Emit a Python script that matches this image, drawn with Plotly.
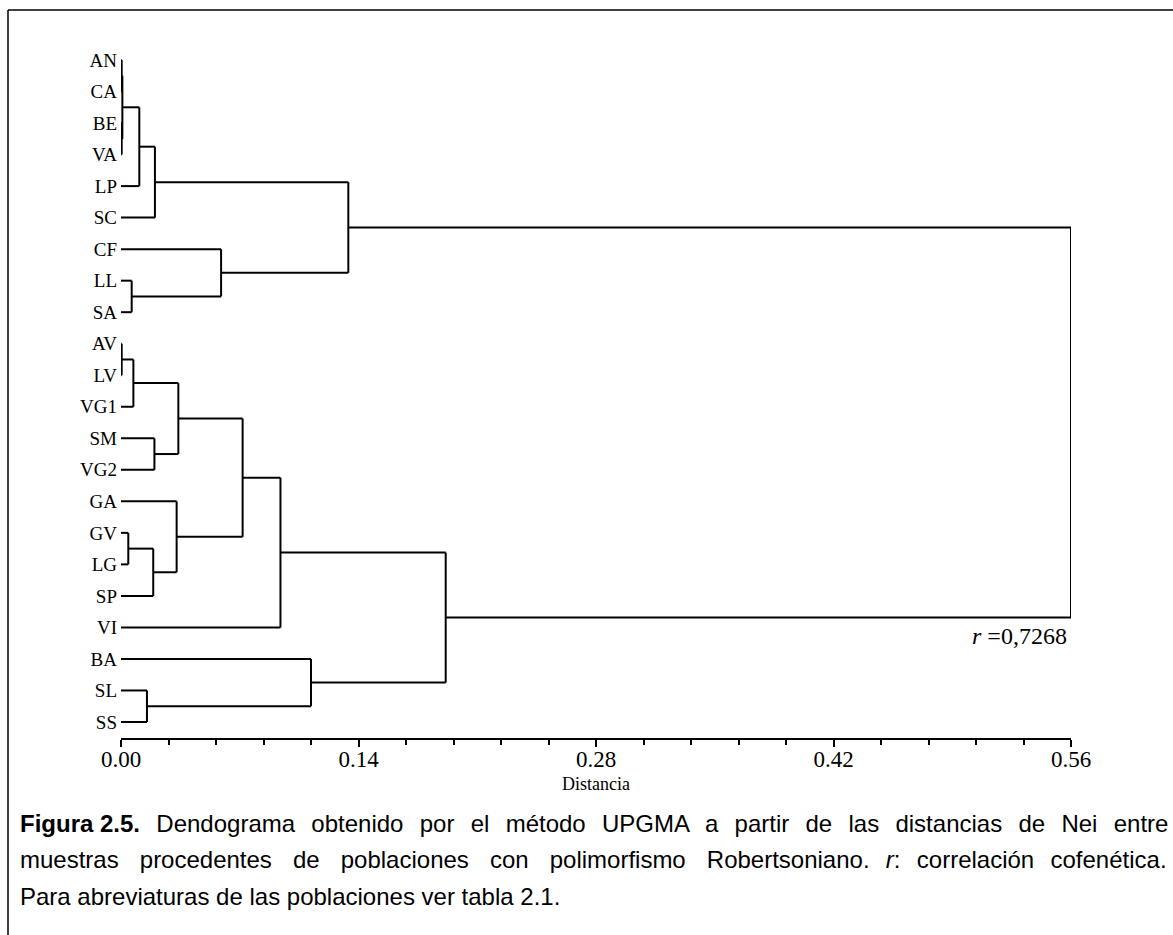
import plotly.graph_objects as go

# ---- data -------------------------------------------------------------
leaves = ["AN", "CA", "BE", "VA", "LP", "SC", "CF", "LL", "SA",
          "AV", "LV", "VG1", "SM", "VG2", "GA", "GV", "LG", "SP", "VI",
          "BA", "SL", "SS"]

# UPGMA merges (cluster names c1..c21), Nei distance at which they join
merge_names  = ["c1", "c2", "c3", "c4", "c5", "c6", "c7", "c8", "c9", "c10",
                "c11", "c12", "c13", "c14", "c15", "c16", "c17", "c18", "c19", "c20", "c21"]
merge_left   = ["AN", "BE", "c1", "c3", "c4", "LL", "CF", "c5", "AV", "c9",
                "SM", "c10", "GV", "c13", "GA", "c12", "c16", "SL", "BA", "c17", "c8"]
merge_right  = ["CA", "VA", "c2", "LP", "SC", "SA", "c6", "c7", "LV", "VG1",
                "VG2", "c11", "LG", "SP", "c14", "c15", "VI", "SS", "c18", "c19", "c20"]
merge_height = [0.0004, 0.0004, 0.0008, 0.0108, 0.0200, 0.0063, 0.0590, 0.1340,
                0.0004, 0.0073, 0.0197, 0.0338, 0.0043, 0.0190, 0.0328, 0.0717,
                0.0940, 0.0153, 0.1120, 0.1914, 0.5600]

major_ticks = [0.00, 0.14, 0.28, 0.42, 0.56]
minor_step = 0.028
r_text = "<i>r</i> =0,7268"

caption_words = [
    ["<b>Figura\u00a02.5.</b>", "Dendograma", "obtenido", "por", "el", "método", "UPGMA", "a",
     "partir", "de", "las", "distancias", "de", "Nei", "entre"],
    ["muestras", "procedentes", "de", "poblaciones", "con", "polimorfismo",
     "Robertsoniano.", "<i>r</i>:", "correlación", "cofenética."],
    ["Para", "abreviaturas", "de", "las", "poblaciones", "ver", "tabla", "2.1."],
]
# extra thin spaces spread over the word gaps (the caption is justified)
caption_extra = [28, 24, 0]

# ---- build dendrogram segments ------------------------------------------
pos = {name: i for i, name in enumerate(leaves)}
hgt = {name: 0.0 for name in leaves}
xs, ys = [], []
for name, a, b, h in zip(merge_names, merge_left, merge_right, merge_height):
    for c in (a, b):
        xs += [hgt[c], h, None]
        ys += [pos[c], pos[c], None]
    xs += [h, h, None]
    ys += [pos[a], pos[b], None]
    pos[name] = (pos[a] + pos[b]) / 2
    hgt[name] = h

minor_ticks = [round(k * minor_step, 3) for k in range(int(round(0.56 / minor_step)) + 1)]

fig = go.Figure()
fig.add_trace(go.Scatter(x=xs, y=ys, mode="lines",
                         line=dict(color="black", width=2),
                         hoverinfo="skip", showlegend=False))

W, H = 1173, 935
L, R, T, B = 121, 102, 30, 197
pw, ph = W - L - R, H - T - B


def px(xp):
    return (xp - L) / pw


def py(yp):
    return (H - B - yp) / ph


serif = "Liberation Serif, Times New Roman, serif"
sans = "Liberation Sans, Arial, sans-serif"


def join_words(words, extra):
    gaps = len(words) - 1
    out = words[0]
    for k, w in enumerate(words[1:]):
        n = extra // gaps + (1 if k < extra % gaps else 0) if gaps else 0
        out += " " + "\u2009" * n + w
    return out


caption_y = [823, 859, 896]
annotations = [
    dict(text=r_text, xref="paper", yref="paper", x=px(1069), y=py(636),
         xanchor="right", yanchor="middle", showarrow=False,
         font=dict(family=serif, size=24, color="black")),
]
for words, extra, yy in zip(caption_words, caption_extra, caption_y):
    annotations.append(dict(text=join_words(words, extra), xref="paper", yref="paper",
                            x=px(18), y=py(yy), xanchor="left", yanchor="middle",
                            showarrow=False,
                            font=dict(family=sans, size=24, color="black")))

fig.update_layout(
    width=W, height=H,
    margin=dict(l=L, r=R, t=T, b=B, pad=0),
    paper_bgcolor="white", plot_bgcolor="white",
    showlegend=False,
    xaxis=dict(
        range=[0, 0.56], showgrid=False, zeroline=False,
        showline=True, linecolor="black", linewidth=2,
        ticks="outside", ticklen=7, tickwidth=2, tickcolor="black",
        tickmode="array", tickvals=major_ticks,
        ticktext=[f"{v:.2f}" for v in major_ticks],
        tickfont=dict(family=serif, size=23, color="black"),
        ticklabelstandoff=-8,
        minor=dict(tickmode="array", tickvals=minor_ticks, ticks="outside",
                   ticklen=5, tickwidth=2, tickcolor="black", showgrid=False),
        title=dict(text="Distancia", font=dict(family=serif, size=18, color="black"),
                   standoff=7),
        fixedrange=True,
    ),
    yaxis=dict(
        range=[21.5076, -0.9517], showgrid=False, zeroline=False,
        showline=False, ticks="",
        tickmode="array", tickvals=list(range(len(leaves))), ticktext=leaves,
        tickfont=dict(family=serif, size=19, color="black"),
        ticklabelstandoff=3,
        fixedrange=True,
    ),
    shapes=[
        dict(type="line", xref="paper", yref="paper", x0=px(8), x1=px(1180),
             y0=py(10), y1=py(10), line=dict(color="black", width=1.5)),
        dict(type="line", xref="paper", yref="paper", x0=px(8), x1=px(8),
             y0=py(10), y1=py(940), line=dict(color="black", width=1.5)),
    ],
    annotations=annotations,
)

fig.write_html("out.html")
